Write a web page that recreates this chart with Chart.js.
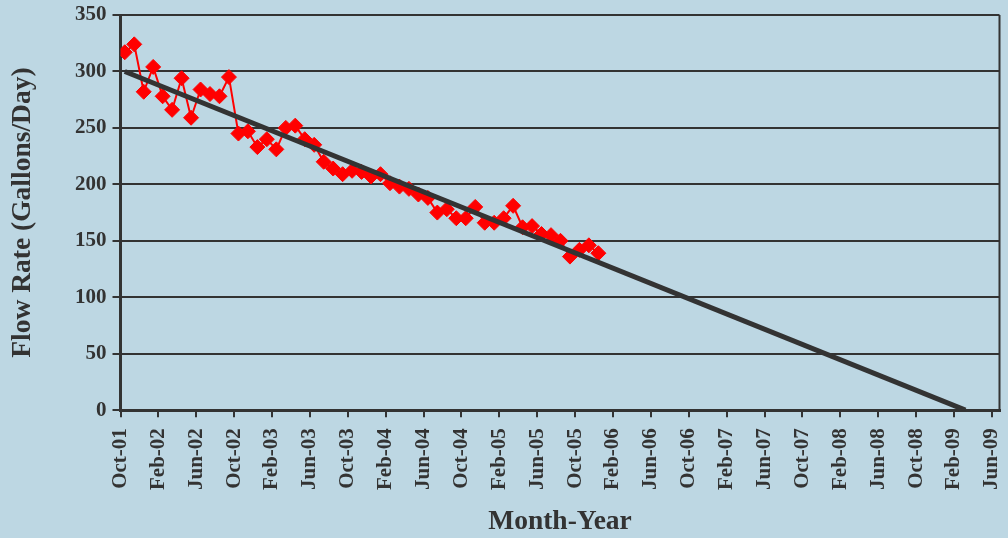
<!DOCTYPE html>
<html><head><meta charset="utf-8">
<script src="https://cdn.jsdelivr.net/npm/chart.js@4"></script>
<style>html,body{margin:0;padding:0;background:#bdd7e3;} #wrap{width:1008px;height:538px;position:relative;}</style>
</head><body><div id="wrap"><canvas id="c"></canvas></div>
<script>
const tickLabels = ["Oct-01","Feb-02","Jun-02","Oct-02","Feb-03","Jun-03","Oct-03","Feb-04","Jun-04","Oct-04","Feb-05","Jun-05","Oct-05","Feb-06","Jun-06","Oct-06","Feb-07","Jun-07","Oct-07","Feb-08","Jun-08","Oct-08","Feb-09","Jun-09"];
// months after Oct-01 for each sample
const sampleMonths = [0.45,1.45,2.45,3.45,4.45,5.45,6.45,7.45,8.45,9.45,10.45,11.45,12.45,13.45,14.45,15.45,16.45,17.45,18.45,19.45,20.45,21.45,22.45,23.45,24.45,25.45,26.45,27.45,28.45,29.45,30.45,31.45,32.45,33.45,34.45,35.45,36.45,37.45,38.45,39.45,40.45,41.45,42.45,43.45,44.45,45.45,46.45,47.45,48.45,49.45,50.45];
const flowRate = [317,324,282,304,278,266,294,259,284,280,278,295,245,247,233,240,231,250,252,240,235,220,214,209,212,211,207,209,201,198,196,191,188,175,178,170,170,180,166,166,170,181,162,163,156,155,150,136,142,146,139];
const trendMonths = [0.45, 89.2];
const trendValues = [300, 0];

const INK = '#333333';
const FONT = 'Liberation Serif';

const frame = {
  id: 'frame',
  afterDatasetsDraw(chart) {
    const {ctx, chartArea: a} = chart;
    ctx.save();
    ctx.strokeStyle = INK; ctx.lineWidth = 2;
    ctx.beginPath(); ctx.moveTo(a.right, a.top); ctx.lineTo(a.right, a.bottom); ctx.stroke();
    ctx.restore();
  }
};

new Chart(document.getElementById('c'), {
  type: 'line',
  data: {
    datasets: [
      {
        label: 'Trend',
        data: trendMonths.map((m, i) => ({x: m, y: trendValues[i]})),
        borderColor: INK, borderWidth: 5, pointRadius: 0, order: 0
      },
      {
        label: 'Flow Rate',
        data: sampleMonths.map((m, i) => ({x: m, y: flowRate[i]})),
        borderColor: '#ff0000', borderWidth: 2,
        pointStyle: 'rectRot', pointRadius: 7.5,
        pointBackgroundColor: '#ff0000', pointBorderColor: '#ff0000', pointBorderWidth: 1,
        order: 1
      }
    ]
  },
  options: {
    responsive: true, maintainAspectRatio: false, animation: false,
    layout: {padding: {left: 6, top: 15, right: 8, bottom: 0}},
    plugins: {legend: {display: false}, tooltip: {enabled: false}},
    scales: {
      x: {
        type: 'linear', min: 0, max: 92.8,
        afterBuildTicks: axis => { axis.ticks = tickLabels.map((_, i) => ({value: i * 4})); },
        afterFit: axis => { axis.paddingLeft = 0; axis.paddingRight = 0; },
        ticks: {
          autoSkip: false, maxRotation: 90, minRotation: 90,
          callback: v => tickLabels[Math.round(v / 4)],
          color: INK, font: {family: FONT, size: 21, weight: 'bold'}, padding: 11
        },
        grid: {drawOnChartArea: false, color: INK, lineWidth: 2, tickLength: 7},
        border: {color: INK, width: 3},
        title: {display: true, text: 'Month-Year', color: INK, font: {family: FONT, size: 27.5, weight: 'bold'}, padding: {top: 4, bottom: 0}}
      },
      y: {
        min: 0, max: 350,
        afterFit: axis => { axis.paddingTop = 0; axis.paddingBottom = 0; },
        ticks: {stepSize: 50, color: INK, font: {family: FONT, size: 21, weight: 'bold'}, padding: 6},
        grid: {color: INK, lineWidth: 2, tickLength: 8},
        border: {color: INK, width: 3},
        title: {display: true, text: 'Flow Rate (Gallons/Day)', color: INK, font: {family: FONT, size: 27.5, weight: 'bold'}, padding: {top: 0, bottom: 30}}
      }
    }
  },
  plugins: [frame]
});
</script>
</body></html>
